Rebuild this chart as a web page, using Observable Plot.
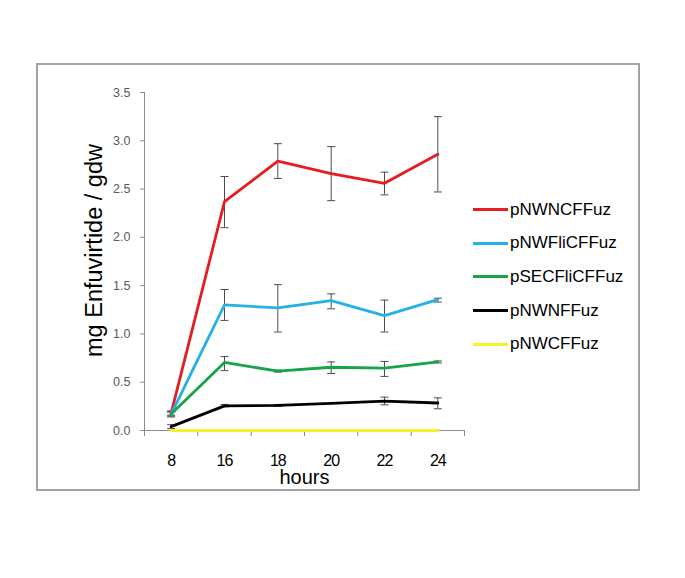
<!DOCTYPE html>
<html>
<head>
<meta charset="utf-8">
<script src="https://cdn.jsdelivr.net/npm/d3@7"></script>
<script src="https://cdn.jsdelivr.net/npm/@observablehq/plot@0.6"></script>
<style>
html, body { margin: 0; padding: 0; background: #fff; }
#wrap { position: relative; width: 685px; height: 578px; font-family: Arial, "Liberation Sans", sans-serif; }
#frame { position: absolute; left: 36px; top: 63px; width: 600px; height: 424px; border: 2px solid #a3a3a3; }
#chart { position: absolute; left: 0; top: 0; }
#legend { position: absolute; left: 473px; top: 193px; }
.item { display: flex; align-items: center; height: 33.6px; }
.sw { width: 35px; height: 3px; margin-right: 2px; }
.lab { font-size: 17px; color: #000; }
g[aria-label="x-axis tick label"] text { letter-spacing: -1px; }
</style>
</head>
<body>
<div id="wrap">
  <div id="frame"></div>
  <div id="chart"></div>
  <div id="legend"></div>
</div>
<script>
// Categories (x) and y tick labels
const hours = ["8", "16", "18", "20", "22", "24"];
const yTicks = [0, 0.5, 1, 1.5, 2, 2.5, 3, 3.5];

// Series
const seriesNames = ["pNWNCFFuz", "pNWFliCFFuz", "pSECFliCFFuz", "pNWNFFuz", "pNWCFFuz"];
const seriesColors = ["#e51d20", "#25b0e6", "#17a34a", "#000000", "#f2f22a"];

// Means
const pNWNCFFuz    = [0.18, 2.37, 2.79, 2.66, 2.56, 2.86];
const pNWFliCFFuz  = [0.17, 1.30, 1.27, 1.345, 1.19, 1.355];
const pSECFliCFFuz = [0.17, 0.705, 0.615, 0.655, 0.645, 0.71];
const pNWNFFuz     = [0.04, 0.255, 0.26, 0.28, 0.305, 0.285];
const pNWCFFuz     = [0, 0, 0, 0, 0, 0];

// Error bar lower / upper ends (null = no bar)
const pNWNCFFuzLo    = [0.16, 2.10, 2.61, 2.38, 2.44, 2.47];
const pNWNCFFuzHi    = [0.20, 2.63, 2.97, 2.94, 2.675, 3.25];
const pNWFliCFFuzLo  = [0.15, 1.14, 1.02, 1.26, 1.02, 1.33];
const pNWFliCFFuzHi  = [0.19, 1.46, 1.51, 1.415, 1.35, 1.37];
const pSECFliCFFuzLo = [0.14, 0.62, 0.605, 0.59, 0.56, 0.70];
const pSECFliCFFuzHi = [0.20, 0.765, 0.625, 0.71, 0.715, 0.72];
const pNWNFFuzLo     = [0.02, 0.245, 0.25, null, 0.266, 0.225];
const pNWNFFuzHi     = [0.06, 0.27, 0.27, null, 0.345, 0.338];

const means = [pNWNCFFuz, pNWFliCFFuz, pSECFliCFFuz, pNWNFFuz, pNWCFFuz];
const lows  = [pNWNCFFuzLo, pNWFliCFFuzLo, pSECFliCFFuzLo, pNWNFFuzLo, null];
const highs = [pNWNCFFuzHi, pNWFliCFFuzHi, pSECFliCFFuzHi, pNWNFFuzHi, null];

const rows = [];
const errRows = [];
seriesNames.forEach((s, si) => {
  hours.forEach((h, hi) => {
    rows.push({series: s, hour: h, value: means[si][hi]});
    if (lows[si] && lows[si][hi] != null) {
      errRows.push({series: s, hour: h, lo: lows[si][hi], hi: highs[si][hi]});
    }
  });
});
const capRows = errRows.flatMap(d => [{hour: d.hour, v: d.lo}, {hour: d.hour, v: d.hi}]);

const xPos = d => hours.indexOf(d.hour) + 0.5;
const capSymbol = {
  draw(ctx, size) {
    const r = Math.sqrt(size / Math.PI);
    ctx.moveTo(-r, 0);
    ctx.lineTo(r, 0);
  }
};

const chart = Plot.plot({
  width: 685,
  height: 578,
  marginLeft: 144,
  marginRight: 221,
  marginTop: 92,
  marginBottom: 148,
  x: {type: "linear", domain: [0, hours.length], axis: null, label: null},
  y: {domain: [0, 3.5], axis: null, label: null},
  color: {domain: seriesNames, range: seriesColors},
  style: {fontFamily: "Arial, 'Liberation Sans', sans-serif", background: "transparent", overflow: "visible"},
  marks: [
    Plot.ruleX([0], {stroke: "#8c8c8c", strokeWidth: 1}),
    Plot.ruleY([0], {stroke: "#8c8c8c", strokeWidth: 1}),
    Plot.axisY({ticks: yTicks, tickFormat: d3.format(".1f"), tickSize: 4, tickPadding: 10, fontSize: 12.5, stroke: "#8c8c8c", fill: "#595959", label: null}),
    Plot.axisX({ticks: d3.range(0, hours.length + 1), tickFormat: () => "", tickSize: 6, stroke: "#8c8c8c", label: null}),
    Plot.axisX({ticks: hours.map((h, i) => i + 0.5), tickFormat: v => hours[Math.floor(v)], tickSize: 0, tickPadding: 24, fontSize: 16, fill: "#000", label: null}),
    Plot.ruleX(errRows, {x: xPos, y1: "lo", y2: "hi", stroke: "#4d4d4d", strokeWidth: 1}),
    Plot.dot(capRows, {x: xPos, y: "v", symbol: capSymbol, r: 4, stroke: "#4d4d4d", fill: "none", strokeWidth: 1}),
    Plot.line(rows, {x: xPos, y: "value", z: "series", stroke: "series", strokeWidth: 2.8}),
    Plot.text(["hours"], {frameAnchor: "bottom", lineAnchor: "bottom", dy: 53, fontSize: 20, fill: "#000"}),
    Plot.text(["mg Enfuvirtide / gdw"], {frameAnchor: "left", textAnchor: "middle", rotate: -90, lineAnchor: "bottom", dx: -43, dy: -11, fontSize: 23.5, fill: "#000"})
  ]
});
document.getElementById("chart").appendChild(chart);

const legend = document.getElementById("legend");
seriesNames.forEach((s, i) => {
  const item = document.createElement("div");
  item.className = "item";
  const sw = document.createElement("div");
  sw.className = "sw";
  sw.style.background = seriesColors[i];
  const lab = document.createElement("span");
  lab.className = "lab";
  lab.textContent = s;
  item.appendChild(sw);
  item.appendChild(lab);
  legend.appendChild(item);
});
</script>
</body>
</html>
